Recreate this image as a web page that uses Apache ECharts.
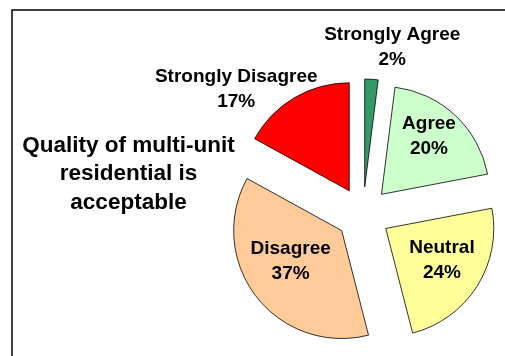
<!DOCTYPE html>
<html>
<head>
<meta charset="utf-8">
<script src="https://cdn.jsdelivr.net/npm/echarts@6/dist/echarts.min.js"></script>
<style>
html,body{margin:0;padding:0;background:#fff}
#main{width:505px;height:356px}
</style>
</head>
<body>
<div id="main"></div>
<script>
// answer categories and shares (%)
var names=["Strongly Agree","Agree","Neutral","Disagree","Strongly Disagree"];
var shares=[2,20,24,37,17];
var colors=["#339966","#ccffcc","#ffff99","#ffcc99","#ff0000"];
// label nudges so text sits where the original put it
var nudge=[[24,-83],[8.5,-17],[8,1],[-6,-4],[-84,-52]];

var myChart=echarts.init(document.getElementById('main'));
var pieData=[];
for(var i=0;i<names.length;i++){
    pieData.push({
        name:names[i],
        value:shares[i],
        selected:true,
        itemStyle:{color:colors[i]},
        select:{itemStyle:{color:colors[i],borderColor:'#000',borderWidth:0.8}}
    })
}
var option={
    animation:false,
    graphic:[
        {type:'rect',shape:{x:12,y:10,width:520,height:380},style:{fill:'none',stroke:'#000',lineWidth:1.5},silent:true},
        {type:'text',x:128.5,y:174,style:{
            text:'Quality of multi-unit\nresidential is\nacceptable',
            font:'bold 22.5px "Liberation Sans", Arial, sans-serif',
            fill:'#000',textAlign:'center',textVerticalAlign:'middle',lineHeight:28.5
        },silent:true}
    ],
    series:[{
        type:'pie',
        center:[363,214],
        radius:108,
        startAngle:90,
        clockwise:true,
        selectedMode:'multiple',
        selectedOffset:27,
        avoidLabelOverlap:false,
        itemStyle:{borderColor:'#000',borderWidth:0.8},
        label:{
            position:'inside',
            formatter:'{b}\n{c}%',
            color:'#000',
            fontFamily:'"Liberation Sans", Arial, sans-serif',
            fontWeight:'bold',
            fontSize:19,
            lineHeight:25
        },
        labelLine:{show:false},
        labelLayout:function(p){
            return {dx:nudge[p.dataIndex][0],dy:nudge[p.dataIndex][1]};
        },
        emphasis:{disabled:true},
        data:pieData
    }]
};
myChart.setOption(option);
</script>
</body>
</html>
